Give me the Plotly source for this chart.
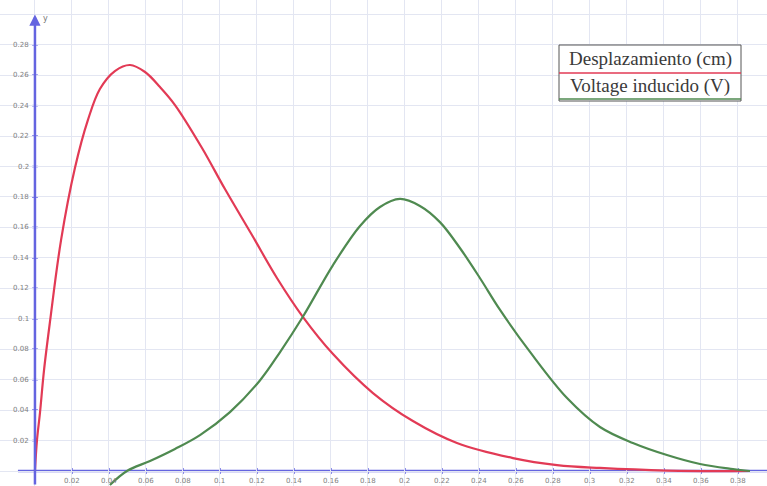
import plotly.graph_objects as go

# Displacement (cm) vs time
t_desp = [0.0, 0.0011, 0.0027, 0.0049, 0.0081, 0.0141, 0.0216, 0.0286, 0.0351, 0.0432,
          0.0514, 0.0595, 0.0676, 0.0757, 0.0903, 0.1027, 0.1173, 0.1308, 0.1449, 0.1611,
          0.1827, 0.2043, 0.2281, 0.2584, 0.2822, 0.3054, 0.3416, 0.3865]
desp = [0.0, 0.0204, 0.0381, 0.0663, 0.0979, 0.1517, 0.1990, 0.2305, 0.2509, 0.2627,
        0.2667, 0.2621, 0.2522, 0.2404, 0.2122, 0.1852, 0.1550, 0.1268, 0.1011, 0.0768,
        0.0512, 0.0328, 0.0184, 0.0085, 0.0039, 0.0020, 0.0003, 0.0]

# Induced voltage (V) vs time
t_volt = [0.0405, 0.0497, 0.0622, 0.0757, 0.0892, 0.1054, 0.1216, 0.1324, 0.1449, 0.1611,
          0.1757, 0.1865, 0.1973, 0.2081, 0.2189, 0.2297, 0.2405, 0.2514, 0.2676, 0.2876,
          0.3054, 0.3232, 0.3416, 0.3595, 0.3773, 0.3865]
volt = [-0.0092, 0.0, 0.0066, 0.0145, 0.0236, 0.0387, 0.0595, 0.0780, 0.1015, 0.1353,
        0.1609, 0.1734, 0.1787, 0.1741, 0.1635, 0.1465, 0.1268, 0.1058, 0.0782, 0.0479,
        0.0289, 0.0184, 0.0105, 0.0046, 0.0013, 0.0]

x_tick_vals = [0.02, 0.04, 0.06, 0.08, 0.1, 0.12, 0.14, 0.16, 0.18, 0.2,
               0.22, 0.24, 0.26, 0.28, 0.3, 0.32, 0.34, 0.36, 0.38]
x_tick_labels = ["0.02", "0.04", "0.06", "0.08", "0.1", "0.12", "0.14", "0.16", "0.18", "0.2",
                 "0.22", "0.24", "0.26", "0.28", "0.3", "0.32", "0.34", "0.36", "0.38"]
y_tick_vals = [0.02, 0.04, 0.06, 0.08, 0.1, 0.12, 0.14, 0.16, 0.18, 0.2, 0.22, 0.24, 0.26, 0.28]
y_tick_labels = ["0.02", "0.04", "0.06", "0.08", "0.1", "0.12", "0.14", "0.16", "0.18", "0.2",
                 "0.22", "0.24", "0.26", "0.28"]

legend_names = ["Desplazamiento (cm)", "Voltage inducido (V)"]

RED = "#e23a55"
GREEN = "#4f8a50"
AXIS = "#6464e0"
GRID = "#e3e6f2"
W, H = 767, 486

fig = go.Figure()
fig.add_trace(go.Scatter(x=t_desp, y=desp, mode="lines", name=legend_names[0],
                         line=dict(color=RED, width=2.2, shape="spline", smoothing=1.0),
                         showlegend=False))
fig.add_trace(go.Scatter(x=t_volt, y=volt, mode="lines", name=legend_names[1],
                         line=dict(color=GREEN, width=2.2, shape="spline", smoothing=1.0),
                         showlegend=False))

shapes = []
annotations = []

# x axis line
shapes.append(dict(type="line", xref="x", yref="y", x0=-0.0092, x1=0.3957, y0=0, y1=0,
                   line=dict(color=AXIS, width=2.5), layer="below"))
# y axis with arrow
annotations.append(dict(x=0, y=0.2998, ax=0, ay=-0.0099, xref="x", yref="y",
                        axref="x", ayref="y", text="", showarrow=True,
                        arrowhead=2, arrowsize=0.9, arrowwidth=2.5, arrowcolor=AXIS))
annotations.append(dict(x=0, y=0.297, xref="x", yref="y", text="y", showarrow=False,
                        xanchor="left", yanchor="middle", xshift=6,
                        font=dict(family="DejaVu Sans", size=8, color="#777")))

tick_font = dict(family="DejaVu Sans", size=7, color="#808080")
for v, lab in zip(x_tick_vals, x_tick_labels):
    shapes.append(dict(type="line", xref="x", yref="y", x0=v, x1=v,
                       ysizemode="pixel", yanchor=0, y0=-3, y1=3,
                       line=dict(color=AXIS, width=1.5), layer="below"))
    annotations.append(dict(x=v, y=0, xref="x", yref="y", text=lab, showarrow=False,
                            xanchor="center", yanchor="top", yshift=-4, font=tick_font))
for v, lab in zip(y_tick_vals, y_tick_labels):
    shapes.append(dict(type="line", xref="x", yref="y", y0=v, y1=v,
                       xsizemode="pixel", xanchor=0, x0=-3, x1=3,
                       line=dict(color=AXIS, width=1.5), layer="below"))
    annotations.append(dict(x=0, y=v, xref="x", yref="y", text=lab, showarrow=False,
                            xanchor="right", yanchor="middle", xshift=-4, font=tick_font))

# custom legend box
def px_x(p):
    return p / W

def px_y(p):
    return 1 - p / H

shapes.append(dict(type="rect", xref="paper", yref="paper",
                   x0=px_x(559), x1=px_x(741), y0=px_y(101), y1=px_y(45),
                   fillcolor="white", line=dict(color="#555", width=1), layer="above"))
shapes.append(dict(type="line", xref="paper", yref="paper",
                   x0=px_x(559), x1=px_x(741), y0=px_y(73), y1=px_y(73),
                   line=dict(color=RED, width=1.5), layer="above"))
shapes.append(dict(type="line", xref="paper", yref="paper",
                   x0=px_x(559), x1=px_x(741), y0=px_y(99), y1=px_y(99),
                   line=dict(color=GREEN, width=1.5), layer="above"))
legend_font = dict(family="Liberation Serif", size=19, color="#3a3a3a")
annotations.append(dict(x=px_x(650), y=px_y(59), xref="paper", yref="paper",
                        text=legend_names[0], showarrow=False, xanchor="center",
                        yanchor="middle", font=legend_font))
annotations.append(dict(x=px_x(650), y=px_y(86), xref="paper", yref="paper",
                        text=legend_names[1], showarrow=False, xanchor="center",
                        yanchor="middle", font=legend_font))

fig.update_layout(
    width=W, height=H,
    margin=dict(l=0, r=0, t=0, b=0),
    paper_bgcolor="white", plot_bgcolor="white",
    xaxis=dict(range=[-0.0189, 0.3957], tick0=0, dtick=0.02, showgrid=True,
               gridcolor=GRID, gridwidth=1, zeroline=False, showticklabels=False,
               ticks="", showline=False, fixedrange=True),
    yaxis=dict(range=[-0.00985, 0.3094], tick0=0, dtick=0.02, showgrid=True,
               gridcolor=GRID, gridwidth=1, zeroline=False, showticklabels=False,
               ticks="", showline=False, fixedrange=True),
    shapes=shapes,
    annotations=annotations,
    showlegend=False,
    hovermode=False,
)

fig.write_html("out.html", config={"displayModeBar": False},
               post_script="document.body.style.margin='0';document.body.style.overflow='hidden';")
